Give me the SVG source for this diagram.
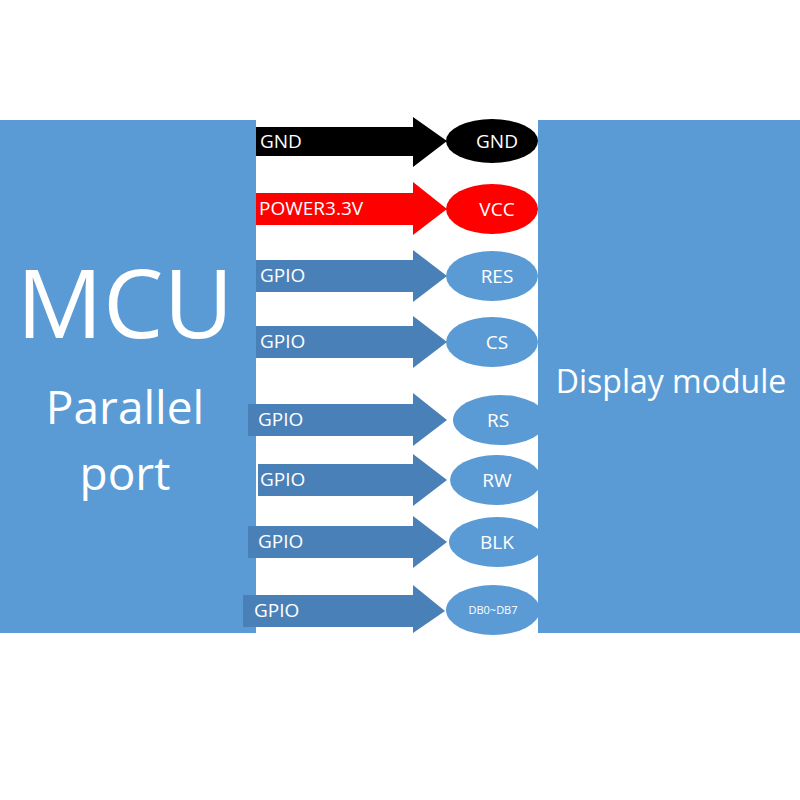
<svg xmlns="http://www.w3.org/2000/svg" width="800" height="800" viewBox="0 0 800 800">
<style>
.t{font-family:"Open Sans","Liberation Sans",sans-serif;fill:#fff}
.a{fill:#4a80b8}
.e{fill:#5b9bd5}
.lbl{font-size:19px}
.c{text-anchor:middle;font-size:19px}
</style>
<rect width="800" height="800" fill="#fff"/>
<g id="mcu"><rect x="0" y="120" width="256" height="513" fill="#5b9bd5"/>
<text class="t" x="125" y="338" text-anchor="middle" font-size="96">MCU</text>
<text class="t" x="125" y="424" text-anchor="middle" font-size="46">Parallel</text>
<text class="t" x="125" y="490" text-anchor="middle" font-size="46">port</text></g>
<g id="display"><rect x="538" y="120" width="262" height="513" fill="#5b9bd5"/>
<text class="t" x="671" y="393" text-anchor="middle" font-size="32">Display module</text></g>
<g id="connectors">
<polygon points="256,127 413,127 413,117 447,141 413,167 413,156 256,156" fill="#000"/>
<polygon points="256,193 413,193 413,182 447,209 413,235 413,225 256,225" fill="#f00"/>
<polygon class="a" points="256,260 413,260 413,250 447,276 413,302 413,292 256,292"/>
<polygon class="a" points="256,326 413,326 413,316 447,342 413,368 413,358 256,358"/>
<polygon class="a" points="248,404 413,404 413,393 447,420 413,446 413,436 248,436"/>
<polygon class="a" points="258,464 413,464 413,454 447,480 413,506 413,496 258,496"/>
<polygon class="a" points="248,526 413,526 413,516 447,542 413,568 413,558 248,558"/>
<polygon class="a" points="243,595 413,595 413,585 445,611 413,633 413,627 243,627"/>
<text class="t lbl" x="260" y="148">GND</text>
<text class="t lbl" x="259" y="215">POWER3.3V</text>
<text class="t lbl" x="260" y="282">GPIO</text>
<text class="t lbl" x="260" y="348">GPIO</text>
<text class="t lbl" x="258" y="426">GPIO</text>
<text class="t lbl" x="260" y="486">GPIO</text>
<text class="t lbl" x="258" y="548">GPIO</text>
<text class="t lbl" x="254" y="617">GPIO</text>
</g>
<g id="gnd"><ellipse cx="492" cy="141" rx="46" ry="22" fill="#000"/><text class="t c" x="497" y="148">GND</text></g>
<g id="vcc"><ellipse cx="492" cy="209" rx="46" ry="25" fill="#f00"/><text class="t c" x="497" y="216">VCC</text></g>
<g id="res"><ellipse class="e" cx="492" cy="276" rx="46" ry="25"/><text class="t c" x="497" y="283">RES</text></g>
<g id="cs"><ellipse class="e" cx="492" cy="342" rx="46" ry="25"/><text class="t c" x="497" y="349">CS</text></g>
<g id="rs"><ellipse class="e" cx="500" cy="420" rx="47" ry="25"/><text class="t c" x="498" y="427">RS</text></g>
<g id="rw"><ellipse class="e" cx="496" cy="480" rx="46" ry="25"/><text class="t c" x="497" y="487">RW</text></g>
<g id="blk"><ellipse class="e" cx="497" cy="542" rx="48" ry="25"/><text class="t c" x="497" y="549">BLK</text></g>
<g id="db"><ellipse class="e" cx="493" cy="610" rx="47" ry="25"/><text class="t" x="493" y="614" text-anchor="middle" font-size="11">DB0~DB7</text></g>
</svg>
